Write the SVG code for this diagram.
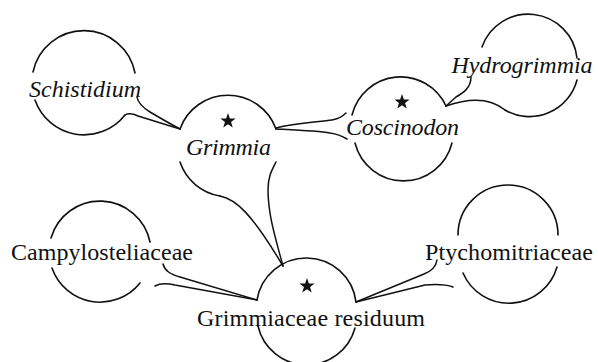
<svg xmlns="http://www.w3.org/2000/svg" width="598" height="362" viewBox="0 0 598 362">
<style>
  .arc { fill: none; stroke: #111; stroke-width: 1.6; stroke-linecap: round; }
  .tail { fill: none; stroke: #111; stroke-width: 1.5; stroke-linecap: round; stroke-linejoin: round; }
  .lbl { font-family: "Liberation Serif", "DejaVu Serif", serif; font-size: 24px; fill: #111; text-anchor: middle; }
  .it { font-style: italic; }
  .star { fill: #111; }
</style>
<defs>
  <path id="star" d="M0,-8 L1.88,-2.59 L7.61,-2.47 L3.04,0.99 L4.70,6.47 L0,3.2 L-4.70,6.47 L-3.04,0.99 L-7.61,-2.47 L-1.88,-2.59 Z"/>
</defs>
<rect width="598" height="362" fill="#fff"/>

<g id="schistidium">
  <path class="arc" d="M33,72 A52,52 0 0 1 135,73"/>
  <path class="arc" d="M35,100 A52,52 0 0 0 125,115"/>
  <text class="lbl it" x="85" y="97" textLength="112">Schistidium</text>
</g>

<g id="grimmia">
  <path class="arc" d="M180,129 A51,51 0 0 1 276,129"/>
  <path class="arc" d="M180,162 A51,51 0 0 0 220,196"/>
  <use href="#star" class="star" x="228" y="121"/>
  <text class="lbl it" x="228.5" y="155" textLength="85">Grimmia</text>
</g>

<g id="coscinodon">
  <path class="arc" d="M352,115 A50,50 0 0 1 446,106"/>
  <path class="arc" d="M355,143 A50,50 0 0 0 452,143"/>
  <use href="#star" class="star" x="402" y="102"/>
  <text class="lbl it" x="402.5" y="135" textLength="113">Coscinodon</text>
</g>

<g id="hydrogrimmia">
  <path class="arc" d="M482,47 A49,49 0 0 1 577,58"/>
  <path class="arc" d="M505,110 A49,49 0 0 0 577,80"/>
  <text class="lbl it" x="522" y="73" textLength="141">Hydrogrimmia</text>
</g>

<g id="campylosteliaceae">
  <path class="arc" d="M51,238 A51,51 0 0 1 150,242"/>
  <path class="arc" d="M52,268 A51,51 0 0 0 140,283"/>
  <text class="lbl" x="102" y="260" textLength="182">Campylosteliaceae</text>
</g>

<g id="grimmiaceae-residuum">
  <path class="arc" d="M257,300 A50,50 0 0 1 356,302"/>
  <path class="arc" d="M258,326 A50,50 0 0 0 355,328"/>
  <use href="#star" class="star" x="307" y="286"/>
  <text class="lbl" x="311" y="326" textLength="228">Grimmiaceae residuum</text>
</g>

<g id="ptychomitriaceae">
  <path class="arc" d="M458,235 A50,50 0 0 1 558,235"/>
  <path class="arc" d="M463,273 A50,50 0 0 0 557,267"/>
  <text class="lbl" x="509" y="260" textLength="168">Ptychomitriaceae</text>
</g>

<g id="connectors">
  <!-- Schistidium - Grimmia -->
  <path class="tail" d="M137,97 C138,103 142,107 150,112 Q165,121 180,129"/>
  <path class="tail" d="M125,115 C128,113 132,113 138,116 L180,129"/>
  <!-- Grimmia - Coscinodon -->
  <path class="tail" d="M276,128 C295,123 320,122 332,120 C338,119 342,117 346,113"/>
  <path class="tail" d="M276,129 C295,130 318,131 330,133 C337,134 342,136 347,139"/>
  <!-- Hydrogrimmia - Coscinodon -->
  <path class="tail" d="M471,77 C471,88 463,93 456,97 L446,106"/>
  <path class="tail" d="M446,106 C466,99 488,96 505,110"/>
  <!-- Grimmia - Grimmiaceae residuum -->
  <path class="tail" d="M220,196 C236,199 252,214 283,266"/>
  <path class="tail" d="M276,162 C272,170 268,176 268,190 C268,215 276,240 283,266"/>
  <!-- Campylosteliaceae - Grimmiaceae residuum -->
  <path class="tail" d="M163,264 C165,271 170,274 180,277 L257,300"/>
  <path class="tail" d="M155,286 C160,283 166,283 175,285 L257,300"/>
  <!-- Ptychomitriaceae - Grimmiaceae residuum -->
  <path class="tail" d="M437,260 C436,267 432,271 424,274 L356,302"/>
  <path class="tail" d="M453,287 C445,284 437,284 425,285 L356,302"/>
</g>
</svg>
